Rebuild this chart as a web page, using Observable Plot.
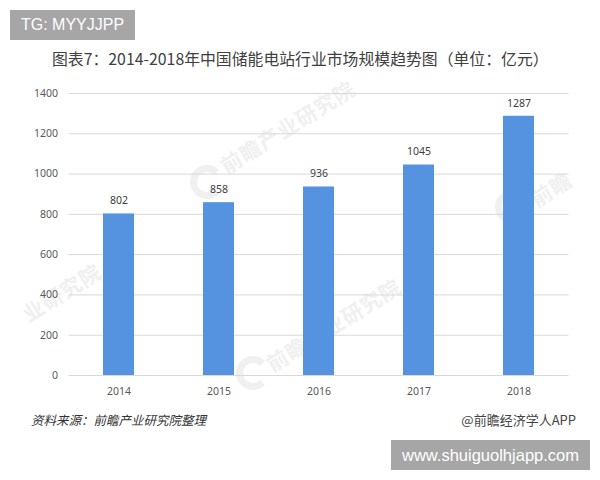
<!DOCTYPE html>
<html lang="zh">
<head>
<meta charset="utf-8">
<script src="https://cdn.jsdelivr.net/npm/d3@7"></script>
<script src="https://cdn.jsdelivr.net/npm/@observablehq/plot@0.6"></script>
<style>
html,body{margin:0;padding:0;background:#fff;overflow:hidden}
#page{position:relative;width:600px;height:480px;overflow:hidden;font-family:"Noto Sans CJK SC","Noto Sans",sans-serif}
#page>div{position:absolute;white-space:nowrap}
#chart{left:0;top:0;z-index:1}
#chart svg{display:block;background:transparent}
.badge{background:#a6a6a6;color:#fff;font-family:"Liberation Sans",Arial,sans-serif;font-size:16.5px;display:flex;align-items:center;justify-content:center;height:30px;z-index:2}
#title{left:52px;top:47px;font-size:15.85px;color:#404040;line-height:24px}
#source{left:31px;top:411px;font-size:12.5px;font-style:italic;color:#333;line-height:18px}
#credit{right:24px;top:411px;font-size:13px;color:#444;line-height:18px}
.wm{color:#f0f0f0;font-size:21px;font-weight:700;transform:rotate(-32deg);transform-origin:left center;letter-spacing:1px;z-index:0}
.logo{width:20px;height:20px;border:7px solid #f0f0f0;border-right-color:transparent;border-radius:50%;z-index:0}
</style>
</head>
<body>
<div id="page">
  <div class="wm" style="left:222px;top:152px">前瞻产业研究院</div>
  <div class="wm" style="left:24px;top:300px">业研究院</div>
  <div class="wm" style="left:268px;top:350px">前瞻产业研究院</div>
  <div class="wm" style="left:532px;top:185px">前瞻</div>
  <div class="logo" style="left:190px;top:165px"></div>
  <div class="logo" style="left:236px;top:356px"></div>
  <div class="logo" style="left:495px;top:190px"></div>
  <div id="chart"></div>
  <div class="badge" style="left:10px;top:10px;width:125px;font-size:16px">TG: MYYJJPP</div>
  <div id="title">图表7：2014-2018年中国储能电站行业市场规模趋势图（单位：亿元）</div>
  <div id="source">资料来源：前瞻产业研究院整理</div>
  <div id="credit">@前瞻经济学人APP</div>
  <div class="badge" style="left:391px;top:440px;width:199px">www.shuiguolhjapp.com</div>
</div>
<script>
const years = ["2014", "2015", "2016", "2017", "2018"];
const marketSize = [802, 858, 936, 1045, 1287];
const yTicks = [0, 200, 400, 600, 800, 1000, 1200, 1400];
const rows = years.map((year, i) => ({year, value: marketSize[i]}));

const chart = Plot.plot({
  width: 600,
  height: 480,
  marginTop: 93,
  marginBottom: 105,
  marginLeft: 68.5,
  marginRight: 31.5,
  style: {background: "transparent", fontFamily: "'Noto Sans','Liberation Sans',sans-serif", fontSize: "10.5px"},
  x: {domain: years, paddingInner: 0.69, paddingOuter: 0.345, round: false, label: null},
  y: {domain: [0, 1400], label: null},
  marks: [
    Plot.ruleY(yTicks, {stroke: "#d9d9d9", strokeWidth: 1}),
    Plot.barY(rows, {x: "year", y: "value", fill: "#5593e0"}),
    Plot.text(rows, {x: "year", y: "value", text: d => String(d.value), dy: -13, fill: "#404040", fontSize: 10.5}),
    Plot.axisX({tickSize: 0, tickPadding: 12, color: "#595959", label: null}),
    Plot.axisY({ticks: yTicks, tickFormat: d => String(d), tickSize: 0, tickPadding: 11, color: "#595959", label: null})
  ]
});
document.getElementById("chart").appendChild(chart);
</script>
</body>
</html>
